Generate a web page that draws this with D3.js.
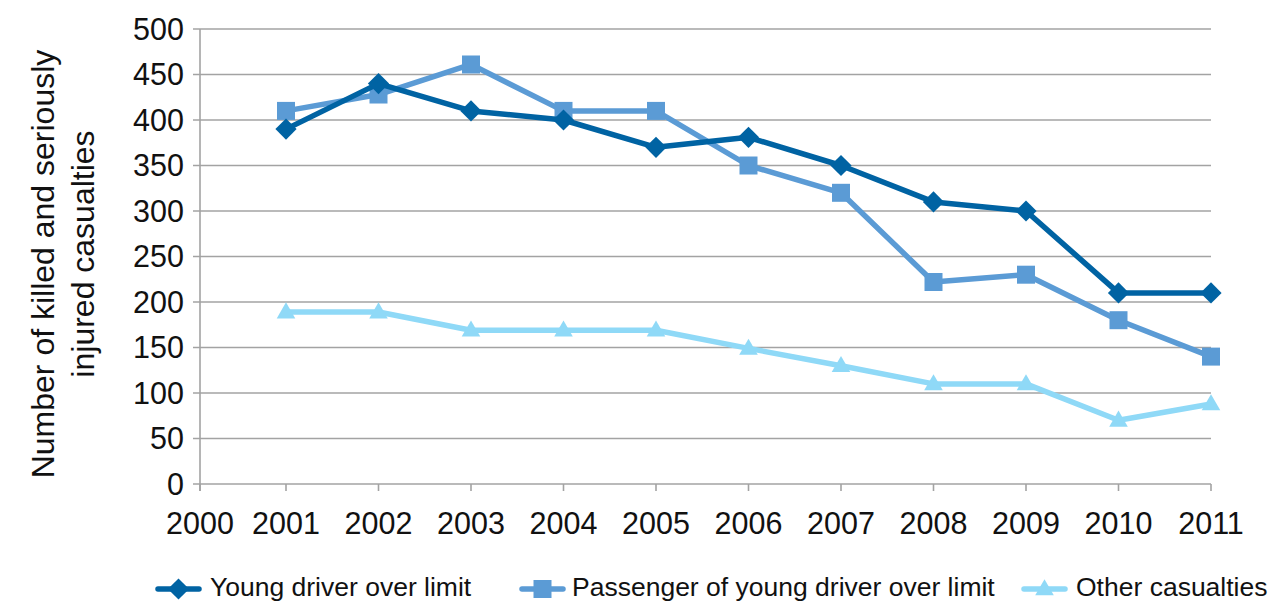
<!DOCTYPE html>
<html>
<head>
<meta charset="utf-8">
<script src="https://cdn.jsdelivr.net/npm/d3@7"></script>
<style>
  html, body { margin: 0; padding: 0; background: #fff; }
  svg { display: block; font-family: "Liberation Sans", Arial, Helvetica, sans-serif; }
</style>
</head>
<body>
<div id="chart"></div>
<script>
// Killed and seriously injured casualties, young drivers over the limit
const years = [2001, 2002, 2003, 2004, 2005, 2006, 2007, 2008, 2009, 2010, 2011];
const youngDriver = [390, 440, 410, 400, 370, 381, 350, 310, 300, 210, 210];
const passenger   = [410, 428, 461, 410, 410, 350, 320, 222, 230, 180, 140];
const otherCas    = [189, 189, 169, 169, 169, 149, 130, 110, 110, 70, 88];
const xTicks = [2000, 2001, 2002, 2003, 2004, 2005, 2006, 2007, 2008, 2009, 2010, 2011];
const yTicks = [0, 50, 100, 150, 200, 250, 300, 350, 400, 450, 500];

const series = [
    { name: 'Young driver over limit', values: youngDriver, color: '#0063a3', symbol: 'diamond' },
    { name: 'Passenger of young driver over limit', values: passenger, color: '#5b9bd5', symbol: 'square' },
    { name: 'Other casualties', values: otherCas, color: '#8fd9f7', symbol: 'triangle' }
];

const width = 1272, height = 603;
const gridColor = '#a3a3a3';

const svg = d3.select('#chart').append('svg')
    .attr('width', width)
    .attr('height', height)
    .attr('viewBox', `0 0 ${width} ${height}`);

// x axis: 2000 sits on the value axis, the years after are evenly spaced
const x = d3.scaleLinear()
    .domain([2000, 2001, 2011])
    .range([200, 286, 1211]);

const y = d3.scaleLinear()
    .domain([0, 500])
    .range([484, 29]);

// gridlines
svg.append('g')
    .selectAll('line')
    .data(yTicks)
    .enter()
    .append('line')
    .attr('x1', x(2000) - 7)
    .attr('x2', x(2011))
    .attr('y1', d => y(d))
    .attr('y2', d => y(d))
    .attr('stroke', gridColor)
    .attr('stroke-width', 1.6);

// value axis line
svg.append('line')
    .attr('x1', x(2000)).attr('x2', x(2000))
    .attr('y1', y(500)).attr('y2', y(0) + 7)
    .attr('stroke', gridColor)
    .attr('stroke-width', 1.6);

// category tick marks
svg.append('g')
    .selectAll('line')
    .data(xTicks)
    .enter()
    .append('line')
    .attr('x1', d => x(d))
    .attr('x2', d => x(d))
    .attr('y1', y(0))
    .attr('y2', y(0) + 7)
    .attr('stroke', gridColor)
    .attr('stroke-width', 1.6);

// y tick labels
svg.append('g')
    .selectAll('text')
    .data(yTicks)
    .enter()
    .append('text')
    .attr('x', 184)
    .attr('y', d => y(d))
    .attr('dy', '0.36em')
    .attr('text-anchor', 'end')
    .attr('font-size', '30.5px')
    .attr('fill', '#111')
    .text(d => d);

// x tick labels
svg.append('g')
    .selectAll('text')
    .data(xTicks)
    .enter()
    .append('text')
    .attr('x', d => x(d))
    .attr('y', 534)
    .attr('text-anchor', 'middle')
    .attr('font-size', '30.5px')
    .attr('fill', '#111')
    .text(d => d);

// y axis title
const title = svg.append('g')
    .attr('transform', 'rotate(-90)')
    .attr('font-size', '32px')
    .attr('fill', '#111')
    .attr('text-anchor', 'middle');
title.append('text').attr('x', -264).attr('y', 54).text('Number of killed and seriously');
title.append('text').attr('x', -254).attr('y', 94).text('injured casualties');

function symbolPath(kind) {
    if (kind === 'diamond') return d3.symbol().type(d3.symbolSquare).size(225)();
    if (kind === 'square') return d3.symbol().type(d3.symbolSquare).size(324)();
    return d3.symbol().type(d3.symbolTriangle).size(150)();
}
function symbolTransform(kind, px, py) {
    if (kind === 'diamond') return `translate(${px},${py}) rotate(45)`;
    if (kind === 'triangle') return `translate(${px},${py + 1})`;
    return `translate(${px},${py})`;
}

const line = d3.line()
    .x(d => x(d.year))
    .y(d => y(d.value));

// draw lighter series first so the dark line sits on top
series.slice().reverse().forEach(s => {
    const pts = years.map((yr, i) => ({ year: yr, value: s.values[i] }));
    const g = svg.append('g');
    g.append('path')
        .datum(pts)
        .attr('d', line)
        .attr('fill', 'none')
        .attr('stroke', s.color)
        .attr('stroke-width', 5.5)
        .attr('stroke-linejoin', 'round');
    g.selectAll('path.mark')
        .data(pts)
        .enter()
        .append('path')
        .attr('class', 'mark')
        .attr('d', symbolPath(s.symbol))
        .attr('transform', d => symbolTransform(s.symbol, x(d.year), y(d.value)))
        .attr('fill', s.color);
});

// legend
const legendItems = [
    { x0: 158, tx: 210 },
    { x0: 522, tx: 572 },
    { x0: 1024, tx: 1076 }
];
const legendY = 589;
series.forEach((s, i) => {
    const pos = legendItems[i];
    const g = svg.append('g');
    g.append('line')
        .attr('x1', pos.x0).attr('x2', pos.x0 + 41)
        .attr('y1', legendY).attr('y2', legendY)
        .attr('stroke', s.color)
        .attr('stroke-width', 5.5)
        .attr('stroke-linecap', 'round');
    g.append('path')
        .attr('d', symbolPath(s.symbol))
        .attr('transform', symbolTransform(s.symbol, pos.x0 + 20.5, legendY))
        .attr('fill', s.color);
    g.append('text')
        .attr('x', pos.tx)
        .attr('y', 596)
        .attr('font-size', '26.5px')
        .attr('fill', '#111')
        .text(s.name);
});
</script>
</body>
</html>
